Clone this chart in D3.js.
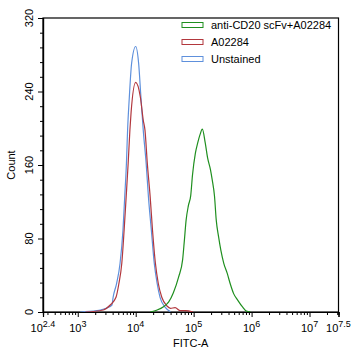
<!DOCTYPE html>
<html><head><meta charset="utf-8">
<script src="https://cdn.jsdelivr.net/npm/d3@7"></script>
<style>
html,body{margin:0;padding:0;background:#fff;}
text{font-family:"Liberation Sans",Arial,sans-serif;fill:#000;}
</style></head>
<body>
<svg id="chart" width="352" height="355"></svg>
<script>
// ---- data (x as log10 FITC-A, y as Count) ----
const seriesNames = ["anti-CD20 scFv+A02284", "A02284", "Unstained"];
const seriesColors = ["#1f8f1f", "#b2373d", "#5e90dc"];

const unstainedLog = [3.04,3.33,3.39,3.50,3.59,3.61,3.67,3.73,3.78,3.81,3.84,3.86,3.89,3.93,4.00,4.05,4.09,4.13,4.18,4.22,4.27,4.32,4.37,4.42,4.51,4.60];
const unstainedCount = [0,1.5,2.2,4.4,7.6,16,31,53,89,125,162,198,234,271,289,271,234,198,162,125,89,53,31,16,5,0.3];

const a02284Log = [3.13,3.44,3.56,3.66,3.71,3.76,3.80,3.835,3.87,3.90,3.92,4.00,4.08,4.13,4.16,4.20,4.25,4.29,4.34,4.39,4.45,4.54,4.60,4.68,4.77,4.86,4.99];
const a02284Count = [0,2.2,7.6,16,31,53,89,125,162,198,217,250,234,209,198,162,125,89,53,31,16,6.5,4.0,4.7,1.4,1.4,0];

const antiLog = [4.25,4.37,4.48,4.57,4.65,4.74,4.81,4.84,4.87,4.91,4.95,4.98,5.03,5.07,5.11,5.15,5.20,5.24,5.29,5.32,5.36,5.39,5.43,5.47,5.52,5.58,5.63,5.69,5.76,5.84,5.91,5.98];
const antiCount = [0,2.2,5.8,11,21,38,57,78,100,116,127,149,173,184,193,199,184,168,155,144,126,100,82,67,53,42,31,20,13,5.8,1.1,0.3];

const xMajorExp = [2.4,3,4,5,6,7,7.5];
const yTicks = [0,80,160,240,320];
const xLabel = "FITC-A", yLabel = "Count";

// ---- layout ----
const svg = d3.select("#chart");
const L = 43, R = 338.5, T = 18, B = 312;
const x = d3.scaleLog().domain([Math.pow(10,2.4), Math.pow(10,7.5)]).range([L, R]);
const y = d3.scaleLinear().domain([0,320]).range([B, T]);

// frame
svg.append("rect").attr("x",L).attr("y",T).attr("width",R-L).attr("height",B-T)
  .attr("fill","none").attr("stroke","#000").attr("stroke-width",1.2);

// x minor ticks
const minor = [];
for (let e=2; e<=7; e++) for (let k=2;k<=9;k++){ const v=k*Math.pow(10,e); if (v>x.domain()[0] && v<x.domain()[1]) minor.push(v); }
const gx = svg.append("g").attr("transform",`translate(0,${B})`);
gx.call(d3.axisBottom(x).tickValues(minor).tickSize(3).tickFormat(""));
gx.append("g").call(d3.axisBottom(x).tickValues(xMajorExp.map(e=>Math.pow(10,e))).tickSize(5).tickFormat(""));
gx.selectAll(".domain").attr("stroke","#000").attr("stroke-width",1.2);
gx.selectAll(".tick line").attr("stroke","#000");

// x labels with superscripts
xMajorExp.forEach(e=>{
  const t = svg.append("text").attr("x", x(Math.pow(10,e))).attr("y", 332)
    .attr("text-anchor","middle").attr("font-size",11);
  t.append("tspan").text("10");
  t.append("tspan").attr("dy",-5).attr("font-size",9).text(String(e));
});

// y axis
const gy = svg.append("g").attr("transform",`translate(${L},0)`);
const yMinor = d3.range(0,321,16).filter(v=>v%80!==0);
gy.call(d3.axisLeft(y).tickValues(yMinor).tickSize(3).tickFormat(""));
gy.append("g").call(d3.axisLeft(y).tickValues(yTicks).tickSize(5).tickFormat(""));
gy.selectAll(".domain").attr("stroke","#000").attr("stroke-width",1.2);
gy.selectAll(".tick line").attr("stroke","#000");
yTicks.forEach(v=>{
  svg.append("text").attr("transform",`translate(33,${y(v)}) rotate(-90)`)
    .attr("text-anchor","middle").attr("font-size",11).text(v);
});

// axis titles
svg.append("text").attr("x",(L+R)/2).attr("y",347).attr("text-anchor","middle").attr("font-size",11).text(xLabel);
svg.append("text").attr("transform",`translate(15,${(T+B)/2}) rotate(-90)`).attr("text-anchor","middle").attr("font-size",11).text(yLabel);

// curves
const line = d3.line().x(d=>x(Math.pow(10,d[0]))).y(d=>y(d[1])).curve(d3.curveMonotoneX);
const series = [
  [antiLog, antiCount],
  [a02284Log, a02284Count],
  [unstainedLog, unstainedCount]
];
const clip = svg.append("clipPath").attr("id","c").append("rect").attr("x",L).attr("y",T).attr("width",R-L).attr("height",B-T);
const gc = svg.append("g").attr("clip-path","url(#c)");
[2,1,0].forEach(i=>{
  const pts = series[i][0].map((v,j)=>[v, series[i][1][j]]);
  gc.append("path").attr("d",line(pts)).attr("fill","none").attr("stroke",seriesColors[i]).attr("stroke-width",1.2);
});

// legend
seriesNames.forEach((n,i)=>{
  const yy = 25 + i*17;
  svg.append("rect").attr("x",182).attr("y",yy-2.5).attr("width",21).attr("height",5)
    .attr("fill","#fff").attr("stroke",seriesColors[i]).attr("stroke-width",1);
  svg.append("text").attr("x",211).attr("y",yy+4).attr("font-size",11).text(n);
});
</script>
</body></html>
